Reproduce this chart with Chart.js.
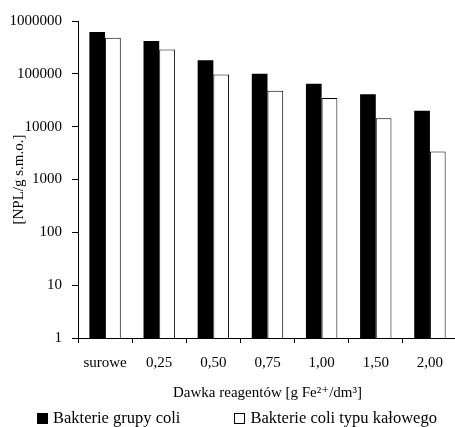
<!DOCTYPE html>
<html lang="pl">
<head>
<meta charset="utf-8">
<title>Dawka reagentów</title>
<script src="https://cdn.jsdelivr.net/npm/chart.js@4.4.1/dist/chart.umd.min.js"></script>
<style>
    html, body { margin: 0; padding: 0; background: #fff; overflow: hidden; }
    .wrap { position: relative; width: 455px; height: 427px; overflow: hidden; }
    #wykres { display: block; }
    .legend {
        position: absolute;
        left: 37px;
        top: 409px;
        display: flex;
        align-items: center;
        font-family: "Liberation Serif", "Times New Roman", serif;
        font-size: 16.5px;
        line-height: 18px;
        color: #000;
        white-space: nowrap;
    }
    .legend-item { display: flex; align-items: center; margin-right: 54px; }
    .legend-box {
        width: 11px;
        height: 11px;
        box-sizing: border-box;
        border: 1px solid #000;
        margin-right: 5px;
    }
</style>
</head>
<body>
<div class="wrap">
    <canvas id="wykres" width="460" height="427"></canvas>
    <div class="legend" id="legend"></div>
</div>
<script>
const categories = ["surowe", "0,25", "0,50", "0,75", "1,00", "1,50", "2,00"];
const coliTotal = [620000, 420000, 180000, 100000, 65000, 41000, 20000];
const coliFecal = [480000, 290000, 97000, 48000, 35000, 14500, 3400];
const yTicks = [1, 10, 100, 1000, 10000, 100000, 1000000];

const serif = "'Liberation Serif', 'DejaVu Serif', serif";

document.addEventListener("DOMContentLoaded", () => {
    Chart.defaults.font.family = serif;
    Chart.defaults.font.size = 15;
    Chart.defaults.color = "#000";

    const chart = drawChart();
    buildLegend(chart);
});

function drawChart() {
    const canvas = document.getElementById("wykres");

    return new Chart(canvas, {
        type: "bar",
        data: {
            labels: categories,
            datasets: [
                {
                    label: "Bakterie grupy coli",
                    data: coliTotal,
                    backgroundColor: "#000000",
                    borderColor: "#000000",
                    borderWidth: 0,
                },
                {
                    label: "Bakterie coli typu kałowego",
                    data: coliFecal,
                    backgroundColor: "#ffffff",
                    borderColor: "#000000",
                    borderWidth: 1,
                },
            ],
        },
        options: {
            responsive: false,
            animation: false,
            categoryPercentage: 0.58,
            barPercentage: 1,
            layout: {
                padding: { top: 21, right: 3, bottom: 25, left: 0 },
            },
            plugins: {
                legend: { display: false },
                tooltip: { enabled: false },
            },
            scales: {
                x: {
                    afterFit: (scale) => {
                        // ticks + labels + axis title, fixed so the plot ends at 338px
                        scale.height = 64;
                    },
                    grid: {
                        offset: true,
                        drawOnChartArea: false,
                        tickLength: 5,
                        color: "#000",
                    },
                    border: { color: "#000", width: 1 },
                    ticks: {
                        padding: 11,
                        maxRotation: 0,
                        autoSkip: false,
                    },
                    title: {
                        display: true,
                        text: "Dawka reagentów [g Fe²⁺/dm³]",
                        padding: { top: 0, bottom: 0 },
                    },
                },
                y: {
                    type: "logarithmic",
                    min: 1,
                    max: 1000000,
                    afterBuildTicks: (scale) => {
                        scale.ticks = yTicks.map((v) => ({ value: v }));
                    },
                    afterFit: (scale) => {
                        scale.width = 78;
                    },
                    grid: {
                        drawOnChartArea: false,
                        tickLength: 6,
                        color: "#000",
                    },
                    border: { color: "#000", width: 1 },
                    ticks: {
                        padding: 10,
                        callback: (value) => String(value),
                    },
                    title: {
                        display: true,
                        text: "[NPL/g s.m.o.]",
                        padding: { top: 10, bottom: 0 },
                    },
                },
            },
        },
    });
}

function buildLegend(chart) {
    const box = document.getElementById("legend");

    chart.data.datasets.forEach((dataset) => {
        const item = document.createElement("div");
        item.className = "legend-item";

        const swatch = document.createElement("span");
        swatch.className = "legend-box";
        swatch.style.background = dataset.backgroundColor;

        const text = document.createElement("span");
        text.textContent = dataset.label;

        item.append(swatch, text);
        box.append(item);
    });
}
</script>
</body>
</html>
